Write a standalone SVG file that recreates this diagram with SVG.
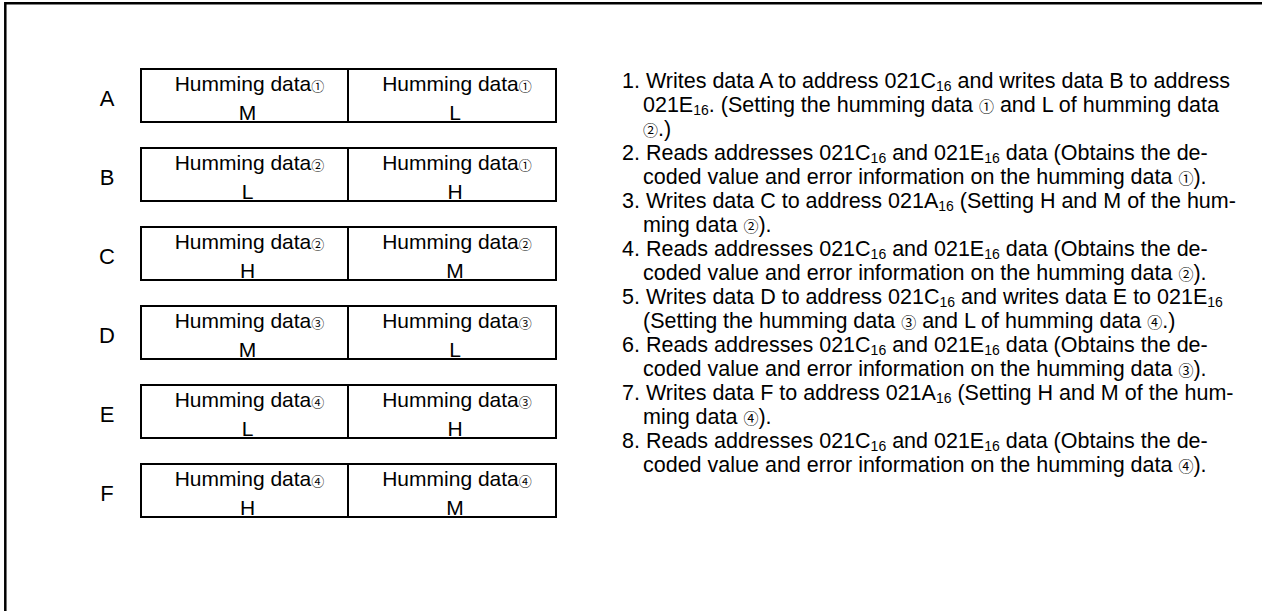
<svg xmlns="http://www.w3.org/2000/svg" width="1262" height="611" viewBox="0 0 1262 611">
<style>
text{font-family:"Liberation Sans","Noto Sans CJK JP",sans-serif;fill:#000}
.lab{font-size:22px;text-anchor:middle}
.bt{font-size:21px;text-anchor:middle}
.cd{font-size:13px}
.cell{fill:#fff;stroke:#000;stroke-width:2}
.st{font-size:21.5px}
.sub{font-size:14px}
.ci{font-size:15px}
</style>
<path d="M5.3,611 V3.2 H1262" fill="none" stroke="#000" stroke-width="2.5"/>
<g id="rowA">
<rect class="cell" x="141" y="69" width="207" height="53"/><rect class="cell" x="348" y="69" width="208" height="53"/>
<text class="lab" x="107" y="106">A</text>
<text class="bt" x="249.5" y="91">Humming data<tspan class="cd">①</tspan></text><text class="bt" x="247.5" y="120">M</text>
<text class="bt" x="457" y="91">Humming data<tspan class="cd">①</tspan></text><text class="bt" x="455" y="120">L</text>
</g>
<g id="rowB">
<rect class="cell" x="141" y="148" width="207" height="53"/><rect class="cell" x="348" y="148" width="208" height="53"/>
<text class="lab" x="107" y="185">B</text>
<text class="bt" x="249.5" y="170">Humming data<tspan class="cd">②</tspan></text><text class="bt" x="247.5" y="199">L</text>
<text class="bt" x="457" y="170">Humming data<tspan class="cd">①</tspan></text><text class="bt" x="455" y="199">H</text>
</g>
<g id="rowC">
<rect class="cell" x="141" y="227" width="207" height="53"/><rect class="cell" x="348" y="227" width="208" height="53"/>
<text class="lab" x="107" y="264">C</text>
<text class="bt" x="249.5" y="249">Humming data<tspan class="cd">②</tspan></text><text class="bt" x="247.5" y="278">H</text>
<text class="bt" x="457" y="249">Humming data<tspan class="cd">②</tspan></text><text class="bt" x="455" y="278">M</text>
</g>
<g id="rowD">
<rect class="cell" x="141" y="306" width="207" height="53"/><rect class="cell" x="348" y="306" width="208" height="53"/>
<text class="lab" x="107" y="343">D</text>
<text class="bt" x="249.5" y="328">Humming data<tspan class="cd">③</tspan></text><text class="bt" x="247.5" y="357">M</text>
<text class="bt" x="457" y="328">Humming data<tspan class="cd">③</tspan></text><text class="bt" x="455" y="357">L</text>
</g>
<g id="rowE">
<rect class="cell" x="141" y="385" width="207" height="53"/><rect class="cell" x="348" y="385" width="208" height="53"/>
<text class="lab" x="107" y="422">E</text>
<text class="bt" x="249.5" y="407">Humming data<tspan class="cd">④</tspan></text><text class="bt" x="247.5" y="436">L</text>
<text class="bt" x="457" y="407">Humming data<tspan class="cd">③</tspan></text><text class="bt" x="455" y="436">H</text>
</g>
<g id="rowF">
<rect class="cell" x="141" y="464" width="207" height="53"/><rect class="cell" x="348" y="464" width="208" height="53"/>
<text class="lab" x="107" y="501">F</text>
<text class="bt" x="249.5" y="486">Humming data<tspan class="cd">④</tspan></text><text class="bt" x="247.5" y="515">H</text>
<text class="bt" x="457" y="486">Humming data<tspan class="cd">④</tspan></text><text class="bt" x="455" y="515">M</text>
</g>
<g id="steps" class="st">
<text class="st" x="622" y="88">1. Writes data A to address 021C<tspan class="sub" dy="3">16</tspan><tspan dy="-3"> and writes data B to address</tspan></text>
<text class="st" x="643" y="112">021E<tspan class="sub" dy="3">16</tspan><tspan dy="-3">. (Setting the humming data </tspan><tspan class="ci">①</tspan> and L of humming data</text>
<text class="st" x="643" y="136"><tspan class="ci">②</tspan>.)</text>
<text class="st" x="622" y="160">2. Reads addresses 021C<tspan class="sub" dy="3">16</tspan><tspan dy="-3"> and 021E</tspan><tspan class="sub" dy="3">16</tspan><tspan dy="-3"> data (Obtains the de-</tspan></text>
<text class="st" x="643" y="184">coded value and error information on the humming data <tspan class="ci">①</tspan>).</text>
<text class="st" x="622" y="208">3. Writes data C to address 021A<tspan class="sub" dy="3">16</tspan><tspan dy="-3"> (Setting H and M of the hum-</tspan></text>
<text class="st" x="643" y="232">ming data <tspan class="ci">②</tspan>).</text>
<text class="st" x="622" y="256">4. Reads addresses 021C<tspan class="sub" dy="3">16</tspan><tspan dy="-3"> and 021E</tspan><tspan class="sub" dy="3">16</tspan><tspan dy="-3"> data (Obtains the de-</tspan></text>
<text class="st" x="643" y="280">coded value and error information on the humming data <tspan class="ci">②</tspan>).</text>
<text class="st" x="622" y="304">5. Writes data D to address 021C<tspan class="sub" dy="3">16</tspan><tspan dy="-3"> and writes data E to 021E</tspan><tspan class="sub" dy="3">16</tspan></text>
<text class="st" x="643" y="328">(Setting the humming data <tspan class="ci">③</tspan> and L of humming data <tspan class="ci">④</tspan>.)</text>
<text class="st" x="622" y="352">6. Reads addresses 021C<tspan class="sub" dy="3">16</tspan><tspan dy="-3"> and 021E</tspan><tspan class="sub" dy="3">16</tspan><tspan dy="-3"> data (Obtains the de-</tspan></text>
<text class="st" x="643" y="376">coded value and error information on the humming data <tspan class="ci">③</tspan>).</text>
<text class="st" x="622" y="400">7. Writes data F to address 021A<tspan class="sub" dy="3">16</tspan><tspan dy="-3"> (Setting H and M of the hum-</tspan></text>
<text class="st" x="643" y="424">ming data <tspan class="ci">④</tspan>).</text>
<text class="st" x="622" y="448">8. Reads addresses 021C<tspan class="sub" dy="3">16</tspan><tspan dy="-3"> and 021E</tspan><tspan class="sub" dy="3">16</tspan><tspan dy="-3"> data (Obtains the de-</tspan></text>
<text class="st" x="643" y="472">coded value and error information on the humming data <tspan class="ci">④</tspan>).</text>
</g>
</svg>
